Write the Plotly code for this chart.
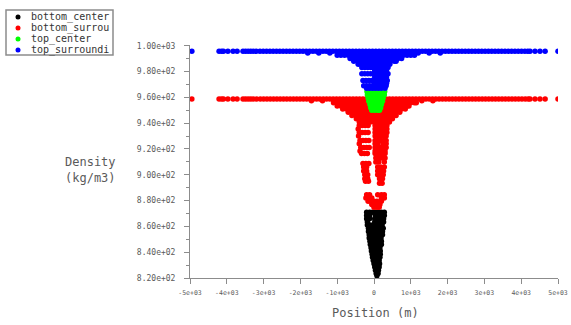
import plotly.graph_objects as go

# ---------------- data (density kg/m3 rows with x positions in m) ----------------
band_x_top = [-4950, -4210, -4140, -4090, -3970, -3830, -3720, -3560, -3490, -3420, -3350,
              -3280, -3200, -3100, -3010, -2920, -2830, -2740, -2650, -2560, -2470, -2380,
              -2290, -2200, -2110, -2020, -1930, -1840, -1750, -1660, -1570, -1480, -1390,
              -1300, -1210, -1120, -1030, -940, -850, -760, -670, -580, -490, -400, -310,
              -220, -130, -40, 50, 140, 230, 320, 410, 500, 590, 680, 770, 860, 950, 1040,
              1130, 1220, 1310, 1400, 1490, 1580, 1670, 1760, 1850, 1940, 2030, 2120, 2210,
              2300, 2390, 2480, 2570, 2660, 2750, 2840, 2930, 3020, 3110, 3200, 3290, 3380,
              3470, 3560, 3650, 3740, 3830, 3920, 4010, 4100, 4180, 4240, 4375, 4510, 4650,
              5000]
band_x_bot = [-4950, -4210, -4140, -4090, -3970, -3830, -3720, -3560, -3490, -3420, -3350,
              -3280, -3190, -3090, -3000, -2910, -2820, -2730, -2640, -2550, -2460, -2370,
              -2280, -2190, -2100, -2010, -1920, -1830, -1740, -1650, -1560, -1470, -1380,
              -1290, -1200, -1110, -1020, -930, -840, -750, -660, -570, -480, -390, -300,
              -210, -120, -30, 60, 150, 240, 330, 420, 510, 600, 690, 780, 870, 960, 1050,
              1140, 1230, 1320, 1410, 1500, 1590, 1680, 1770, 1860, 1950, 2040, 2130, 2220,
              2310, 2400, 2490, 2580, 2670, 2760, 2850, 2940, 3030, 3120, 3210, 3300, 3390,
              3480, 3570, 3660, 3750, 3840, 3930, 4020, 4110, 4190, 4240, 4375, 4510, 4650,
              5000]

top_surrounding_rows = [
    (995.7, band_x_top),
    (994.4, [-1800, -1500, -1200, -900, -600, -300, 0, 300, 600, 900, 1200, 1500, 1800]),
    (992.6, [-1000, -900, -800, -700, -600, -500, -400, -300, -200, -100, 0, 100, 200, 300,
             400, 500, 600, 700, 800, 900, 1000, 1100]),
    (990.2, [-650, -550, -450, -350, -250, -150, -50, 50, 150, 250, 350, 450, 550, 650, 750]),
    (988.0, [-550, -450, -350, -250, -150, -50, 50, 150, 250, 350, 450, 550, 600]),
    (985.7, [-430, -350, -250, -150, -50, 50, 150, 250, 350, 430]),
    (983.2, [-330, -250, -170, -90, -10, 70, 150, 230, 310, 380]),
    (980.7, [20, 100, 180, 260, 340]),
    (978.4, [-330, -250, -170, -90, -10, 70, 150, 230, 310, 380]),
    (975.7, [20, 100, 180, 260, 340]),
    (973.0, [-300, -220, -140, -60, 20, 100, 180, 260, 360]),
    (971.0, [20, 100, 180, 260, 340]),
    (969.0, [-280, -200, -120, -40, 40, 120, 200, 280, 330]),
    (967.0, [-200, -120, -40, 40, 120, 200, 300]),
]

top_center_rows = [
    (964.5, [-190, -110, -30, 50, 130, 210, 290]),
    (962.0, [-180, -100, -20, 60, 140, 220, 280]),
    (959.5, [-160, -80, 0, 80, 160, 250]),
    (957.0, [-140, -60, 20, 100, 180, 230]),
    (954.5, [-110, -30, 50, 130, 200]),
    (952.0, [-90, -10, 70, 150, 180]),
    (950.0, [-60, 20, 100, 150]),
]

bottom_surrounding_rows = [
    (958.7, band_x_bot),
    (957.3, [-1700, -1400, -1100, -800, -500, -200, 100, 400, 700, 1000, 1300, 1600]),
    (955.8, [-1100, -1000, -900, -800, -700, -600, -500, -400, -300, -200, -100, 0, 100,
             200, 300, 400, 500, 600, 700, 800, 900, 1000, 1100, 1150]),
    (953.4, [-1000, -900, -800, -700, -600, -500, -400, -300, -200, -100, 0, 100, 200, 300,
             400, 500, 600, 700, 800, 900, 950]),
    (951.0, [-850, -750, -650, -550, -450, -350, -250, -150, -50, 50, 150, 250, 350, 450,
             550, 650, 750, 850]),
    (948.5, [-700, -600, -500, -400, -300, -200, -100, 0, 100, 200, 300, 400, 500, 600, 700]),
    (946.0, [-600, -500, -400, -300, -200, -100, 0, 100, 200, 300, 400, 500, 600]),
    (943.5, [-480, -380, -280, -180, -80, 20, 120, 220, 320, 420, 500]),
    (941.0, [-400, -300, -200, -100, 0, 100, 200, 300, 420]),
    (938.2, [-400, -320, -240, -160, 30, 110, 190, 270, 350]),
    (935.5, [-430, 30, 110, 190, 270, 350]),
    (932.8, [-400, -320, -240, -160, 30, 110, 190, 270, 350]),
    (930.0, [-420, 30, 110, 190, 270, 330]),
    (926.6, [-380, -300, -220, -140, 30, 110, 190, 270, 330]),
    (924.0, [-400, 30, 110, 250, 330]),
    (921.2, [-360, -280, -200, -130, 30, 110, 190, 270, 330]),
    (918.5, [-380, 30, 110, 190, 300]),
    (916.5, [-340, -260, -180, 30, 110, 190, 260, 300]),
    (913.0, [50, 130, 210, 300]),
    (910.0, [50, 130, 280]),
    (908.8, [-300, -220, -140]),
    (906.0, [-280, -200, 100, 180, 280]),
    (903.0, [-280, -200, 100, 180, 260]),
    (900.0, [-250, -170, 100, 180, 250]),
    (897.0, [-250, -170, 150, 230]),
    (895.0, [-230, -150]),
    (893.5, [150, 220]),
    (884.5, [-200, -120, 100, 200, 280]),
    (882.0, [-220, -140, -60, 200, 280]),
    (879.5, [-160, -80, 0, 80, 200]),
    (877.0, [-60, 20, 100, 160]),
    (874.8, [0, 80, 140]),
]

bottom_center_rows = [
    (871.0, [-200, -120, -40, 40, 120, 200, 280]),
    (868.5, [-200, -120, 40, 120, 200, 280]),
    (866.0, [-200, -120, 20, 100, 180, 260]),
    (863.5, [-180, 20, 100, 180, 260]),
    (861.0, [-180, -100, -20, 60, 140, 220]),
    (858.5, [-150, -70, 10, 90, 170, 250]),
    (856.0, [-150, -70, 10, 90, 170, 230]),
    (853.5, [-130, -50, 30, 110, 190, 230]),
    (851.0, [-130, -50, 30, 110, 190]),
    (848.5, [-110, -30, 50, 130, 200]),
    (846.0, [-100, -20, 60, 140, 200]),
    (843.5, [-80, 0, 80, 160]),
    (841.0, [-70, 10, 90, 170]),
    (838.5, [-50, 30, 110, 170]),
    (836.0, [-40, 40, 120, 160]),
    (833.5, [-20, 60, 140]),
    (831.0, [0, 80, 150]),
    (828.5, [20, 100, 140]),
    (826.0, [40, 120]),
    (823.5, [60, 110]),
    (821.8, [80]),
]

series_names = ["bottom_center", "bottom_surrounding", "top_center", "top_surrounding"]
legend_labels = ["bottom_center", "bottom_surrou", "top_center", "top_surroundi"]
series_colors = ["#000000", "#ff0000", "#00ff00", "#0000ff"]
series_rows = [bottom_center_rows, bottom_surrounding_rows, top_center_rows, top_surrounding_rows]

x_tickvals = [-5000, -4000, -3000, -2000, -1000, 0, 1000, 2000, 3000, 4000, 5000]
x_ticktext = ["-5e+03", "-4e+03", "-3e+03", "-2e+03", "-1e+03", "0", "1e+03", "2e+03",
              "3e+03", "4e+03", "5e+03"]
y_tickvals = [820, 840, 860, 880, 900, 920, 940, 960, 980, 1000]
y_ticktext = ["8.20e+02", "8.40e+02", "8.60e+02", "8.80e+02", "9.00e+02", "9.20e+02",
              "9.40e+02", "9.60e+02", "9.80e+02", "1.00e+03"]

# ---------------- figure ----------------
W, H = 571, 325
ML, MR, MT, MB = 190, 13, 45, 47
PW, PH = W - ML - MR, H - MT - MB
MONO = "DejaVu Sans Mono"
GREY_TXT = "#5a5a5a"
GREY_LINE = "#8c8c8c"


def px_to_paper(px, py):
    return (px - ML) / PW, (H - MB - py) / PH


fig = go.Figure()
for name, color, rows in zip(series_names, series_colors, series_rows):
    xs, ys = [], []
    for dens, xlist in rows:
        for xv in xlist:
            xs.append(xv)
            ys.append(dens)
    fig.add_trace(go.Scatter(x=xs, y=ys, mode="markers", name=name, showlegend=False,
                             marker=dict(color=color, size=5.5, line=dict(width=0))))

fig.update_layout(
    width=W, height=H,
    margin=dict(l=ML, r=MR, t=MT, b=MB, autoexpand=False),
    paper_bgcolor="white", plot_bgcolor="white",
    font=dict(family=MONO, color=GREY_TXT),
)
fig.update_xaxes(range=[-5000, 5000], tickvals=x_tickvals, ticktext=x_ticktext,
                 automargin=False,
                 showgrid=False, zeroline=False, showline=True, linecolor=GREY_LINE,
                 linewidth=1, ticks="outside", ticklen=5, tickcolor=GREY_LINE,
                 tickfont=dict(family=MONO, size=6.5, color=GREY_TXT),
                 ticklabelstandoff=3)
fig.update_yaxes(range=[820, 1000.6], tickvals=y_tickvals, ticktext=y_ticktext,
                 automargin=False,
                 showgrid=False, zeroline=False, showline=True, linecolor=GREY_LINE,
                 linewidth=1, ticks="outside", ticklen=5, tickcolor=GREY_LINE,
                 tickfont=dict(family=MONO, size=8, color=GREY_TXT),
                 ticklabelstandoff=7,
                 minor=dict(dtick=10, tick0=820, ticks="outside", ticklen=3,
                            tickcolor=GREY_LINE, showgrid=False))

# axis titles
ax, ay = px_to_paper(90, 170)
fig.add_annotation(text="Density<br>(kg/m3)", x=ax, y=ay, xref="paper", yref="paper",
                   showarrow=False, xanchor="center", yanchor="middle", align="left",
                   font=dict(family=MONO, size=12, color=GREY_TXT))
tx, ty = px_to_paper(375, 313)
fig.add_annotation(text="Position (m)", x=tx, y=ty, xref="paper", yref="paper",
                   showarrow=False, xanchor="center", yanchor="middle",
                   font=dict(family=MONO, size=12, color=GREY_TXT))

# custom legend box
bx0, by1 = px_to_paper(6, 10)
bx1, by0 = px_to_paper(113, 55)
fig.add_shape(type="rect", xref="paper", yref="paper", x0=bx0, x1=bx1, y0=by0, y1=by1,
              line=dict(color=GREY_LINE, width=1.5), fillcolor="white")
for i, (lab, col) in enumerate(zip(legend_labels, series_colors)):
    rowy = 17 + 11 * i
    dx, dy = px_to_paper(18, rowy)
    fig.add_shape(type="circle", xref="paper", yref="paper", xsizemode="pixel",
                  ysizemode="pixel", xanchor=dx, yanchor=dy, x0=-2.5, x1=2.5, y0=-2.5,
                  y1=2.5, fillcolor=col, line=dict(width=0))
    lx, ly = px_to_paper(29, rowy)
    fig.add_annotation(text=lab, x=lx, y=ly, xref="paper", yref="paper", showarrow=False,
                       xanchor="left", yanchor="middle",
                       font=dict(family=MONO, size=10, color="#333333"))

fig.write_html("out.html")
